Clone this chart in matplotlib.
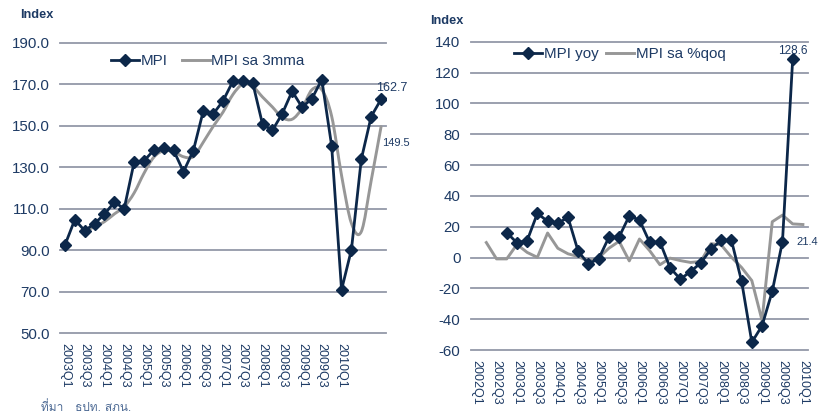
import numpy as np
import matplotlib
matplotlib.use("Agg")
import matplotlib.pyplot as plt
from matplotlib.path import Path
from matplotlib.patches import PathPatch
from matplotlib.lines import Line2D
from matplotlib import font_manager
from matplotlib.ft2font import FT2Font

nan = np.nan

# ---------------- data ----------------
left_categories = ["2003Q1", "2003Q2", "2003Q3", "2003Q4", "2004Q1", "2004Q2", "2004Q3", "2004Q4",
                   "2005Q1", "2005Q2", "2005Q3", "2005Q4", "2006Q1", "2006Q2", "2006Q3", "2006Q4",
                   "2007Q1", "2007Q2", "2007Q3", "2007Q4", "2008Q1", "2008Q2", "2008Q3", "2008Q4",
                   "2009Q1", "2009Q2", "2009Q3", "2009Q4", "2010Q1", "", "", "", ""]
mpi = [92.4, 104.7, 99.3, 102.8, 107.3, 113.1, 110.0, 132.3, 133.0, 138.2, 139.0, 138.1, 127.8,
       138.0, 157.0, 155.6, 161.9, 171.4, 171.6, 170.8, 150.7, 147.7, 155.8, 166.6, 158.9,
       163.0, 172.2, 140.2, 70.8, 90.2, 133.8, 154.4, 162.7]
mpi_sa_3mma = [nan, nan, 99.3, 101.2, 103.7, 107.4, 110.9, 117.5, 127.0, 134.8, 137.9, 137.4,
               135.0, 135.0, 142.0, 149.6, 156.5, 165.0, 170.0, 168.9, 163.8, 159.0, 153.9,
               153.1, 158.3, 167.3, 167.3, 154.5, 126.0, 102.9, 98.9, 123.5, 149.5]
left_labels = {"mpi_last": "162.7", "sa_last": "149.5"}

right_categories = ["2002Q1", "2002Q2", "2002Q3", "2002Q4", "2003Q1", "2003Q2", "2003Q3", "2003Q4",
                    "2004Q1", "2004Q2", "2004Q3", "2004Q4", "2005Q1", "2005Q2", "2005Q3", "2005Q4",
                    "2006Q1", "2006Q2", "2006Q3", "2006Q4", "2007Q1", "2007Q2", "2007Q3", "2007Q4",
                    "2008Q1", "2008Q2", "2008Q3", "2008Q4", "2009Q1", "2009Q2", "2009Q3", "2009Q4",
                    "2010Q1"]
mpi_yoy = [nan, nan, nan, 16.2, 9.5, 11.0, 28.6, 23.5, 22.2, 26.0, 3.9, -4.0, -0.9, 13.1, 13.3,
           27.0, 24.3, 9.8, 10.1, -6.7, -14.0, -9.1, -3.5, 5.4, 11.2, 11.2, -15.5, -55.0, -44.3,
           -21.9, 10.3, 128.6, nan]
mpi_sa_qoq = [nan, 9.7, -0.9, -0.9, 8.5, 3.3, 0.1, 15.9, 6.0, 2.4, 0.6, -2.4, -0.2, 6.0, 10.5,
              -2.2, 12.0, 4.4, -4.7, -0.4, -2.0, -3.2, -2.6, 9.0, 8.2, 0.2, -6.5, -15.0, -40.8,
              23.2, 27.5, 21.8, 21.4]

source_text = "ที่มา   ธปท. สภน."

# ---------------- style ----------------
DARK = "#0c2749"
GRAY = "#979797"
TXT = "#1d3a64"
GRID = "#9398a8"
plt.rcParams["font.family"] = ["Liberation Sans", "DejaVu Sans"]

thai_family = None
for f in font_manager.fontManager.ttflist:
    try:
        cm = FT2Font(f.fname).get_charmap()
        if 0x0E17 in cm and 0x0E21 in cm and 0x0E1B in cm:
            thai_family = f.name
            break
    except Exception:
        pass

W, H = 819, 419
fig = plt.figure(figsize=(W / 100, H / 100), dpi=100)


def px_axes(x0, y0, x1, y1):
    return fig.add_axes([x0 / W, 1 - y1 / H, (x1 - x0) / W, (y1 - y0) / H])


def smooth_path(xs, ys):
    pts = [(x, y) for x, y in zip(xs, ys) if not np.isnan(y)]
    verts = [pts[0]]
    codes = [Path.MOVETO]
    n = len(pts)
    for i in range(n - 1):
        p0 = np.array(pts[i - 1] if i > 0 else pts[i])
        p1 = np.array(pts[i])
        p2 = np.array(pts[i + 1])
        p3 = np.array(pts[i + 2] if i + 2 < n else pts[i + 1])
        c1 = p1 + (p2 - p0) / 6.0
        c2 = p2 - (p3 - p1) / 6.0
        verts += [tuple(c1), tuple(c2), tuple(p2)]
        codes += [Path.CURVE4] * 3
    return Path(verts, codes)


def style_axes(ax, yticks, fmt, ncat, labels):
    ax.set_xlim(-0.5, ncat - 0.5)
    ax.set_ylim(yticks[0], yticks[-1])
    ax.set_yticks(yticks)
    ax.set_yticklabels([fmt.format(v) for v in yticks])
    for s in ax.spines.values():
        s.set_visible(False)
    for v in yticks:
        ax.axhline(v, color=GRID, lw=1.3, zorder=0, clip_on=False)
    pos = list(range(0, ncat, 2))
    ax.set_xticks(pos)
    ax.set_xticklabels([labels[i] for i in pos], rotation=-90, va="top", ha="center")
    ax.tick_params(axis="both", length=0, colors=TXT)
    ax.tick_params(axis="y", labelsize=10.8, pad=7.5)
    ax.tick_params(axis="x", labelsize=9.0, pad=7.5)
    ax.set_facecolor("none")


# ---------------- left chart ----------------
axL = px_axes(60, 42.7, 386, 333)
nL = len(left_categories)
xL = np.arange(nL)
style_axes(axL, list(range(50, 191, 20)), "{:.1f}", nL, left_categories)
axL.add_patch(PathPatch(smooth_path(xL, mpi_sa_3mma), fill=False, edgecolor=GRAY, lw=2.1,
                        zorder=2, capstyle="round", joinstyle="round"))
axL.plot(xL, mpi, color=DARK, lw=2.0, marker="D", markersize=6.3, zorder=3)
h1 = Line2D([], [], color=DARK, lw=2.0, marker="D", markersize=6.3)
h2 = Line2D([], [], color=GRAY, lw=2.1)
axL.legend([h1, h2], ["MPI", "MPI sa 3mma"], loc="center left", bbox_to_anchor=(0.155, 0.937),
           frameon=False, fontsize=10.9, handlelength=1.85, handletextpad=0.12, columnspacing=0.95,
           ncol=2, borderpad=0, borderaxespad=0, labelcolor=TXT)
axL.annotate(left_labels["mpi_last"], (nL - 1, mpi[-1]), xytext=(7.5, 8), textcoords="offset points",
             ha="center", va="center", fontsize=9, color=TXT)
axL.annotate(left_labels["sa_last"], (nL - 1, mpi_sa_3mma[-1]), xytext=(0.5, -11.5),
             textcoords="offset points", ha="left", va="center", fontsize=8, color=TXT)
fig.text(20 / W, 1 - 15 / H, "Index", fontsize=9.2, fontweight="bold", color=TXT,
         ha="left", va="center")

# ---------------- right chart ----------------
axR = px_axes(471, 41.7, 808, 350)
nR = len(right_categories)
xR = np.arange(nR)
style_axes(axR, list(range(-60, 141, 20)), "{:d}", nR, right_categories)
axR.plot(xR, mpi_sa_qoq, color=GRAY, lw=2.1, zorder=2)
axR.plot(xR, mpi_yoy, color=DARK, lw=2.0, marker="D", markersize=6.3, zorder=3)
axR.legend([h1, h2], ["MPI yoy", "MPI sa %qoq"], loc="center left", bbox_to_anchor=(0.127, 0.96),
           frameon=False, fontsize=10.9, handlelength=1.85, handletextpad=0.12, columnspacing=0.5,
           ncol=2, borderpad=0, borderaxespad=0, labelcolor=TXT)
axR.annotate("128.6", (31, mpi_yoy[31]), xytext=(0, 6), textcoords="offset points",
             ha="center", va="center", fontsize=8.5, color=TXT)
axR.annotate("21.4", (32, mpi_sa_qoq[32]), xytext=(-4.5, -12.5), textcoords="offset points",
             ha="left", va="center", fontsize=8, color=TXT)
fig.text(430 / W, 1 - 21 / H, "Index", fontsize=9.2, fontweight="bold", color=TXT,
         ha="left", va="center")

# ---------------- source ----------------
fam = [thai_family, "DejaVu Sans"] if thai_family else ["DejaVu Sans"]
fig.text(41 / W, 1 - 407 / H, source_text, fontsize=8.5, color="#4d6a94", ha="left",
         va="center", family=fam)

fig.savefig("out.png", dpi=100)
